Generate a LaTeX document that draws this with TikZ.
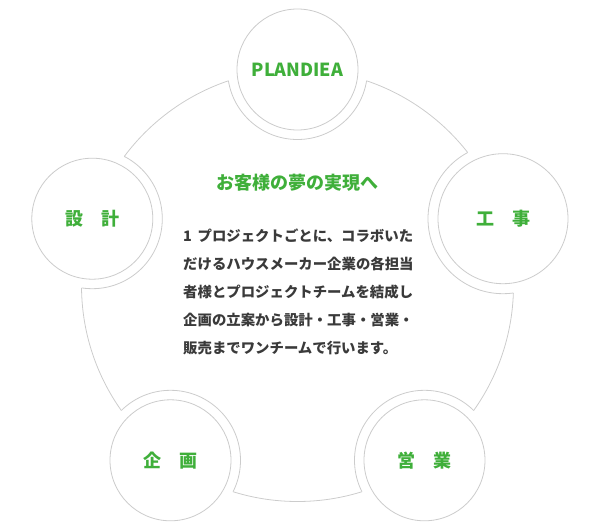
\documentclass[tikz,border=0pt]{standalone}
\usepackage{fontspec}
\setmainfont{Noto Sans CJK JP}
\definecolor{grn}{HTML}{3FAF3A}
\definecolor{txt}{HTML}{3A3A3A}
\definecolor{ring}{HTML}{CCCCCC}
\begin{document}
\begin{tikzpicture}[x=1pt,y=-1pt,
  stage/.style={circle,draw=ring,line width=0.8pt,minimum size=121pt,inner sep=0pt,
    text=grn,font=\fontsize{18}{20}\selectfont\bfseries},
  body/.style={anchor=base west,inner sep=0pt,text=txt,font=\fontsize{14.4}{16}\selectfont\bfseries},
  outline/.style={draw=ring,line width=0.8pt}]
\useasboundingbox (0,0) rectangle (600,530);
\coordinate (O) at (297.5,285.5);
\coordinate (cA) at (297.5,69.5);
\coordinate (cB) at (503,218.7);
\coordinate (cC) at (424.5,460.3);
\coordinate (cD) at (170.5,460.3);
\coordinate (cE) at (92.3,218.7);
% big circle, then bites removed
\draw[outline] (O) circle (216);
\fill[white] (cA) circle (70) (cB) circle (75) (cC) circle (70) (cD) circle (70) (cE) circle (70);
% bite arcs inside big circle
\begin{scope}
  \clip (O) circle (216);
  \draw[outline] (cA) circle (70) (cB) circle (75) (cC) circle (70) (cD) circle (70) (cE) circle (70);
\end{scope}
\node[stage] (plan) at (cA) {PLANDIEA};
\node[stage,minimum size=130pt] (koji) at (cB) {工　事};
\node[stage] (eigyo) at (cC) {営　業};
\node[stage] (kikaku) at (cD) {企　画};
\node[stage] (sekkei) at (cE) {設　計};
\node[text=grn,font=\fontsize{18}{20}\selectfont\bfseries,inner sep=0pt] (title) at (297,183) {お客様の夢の実現へ};
\node[body] (l1) at (183,241.5) {\makebox[14.4pt][l]{1}プロジェクトごとに、コラボいた};
\node[body] (l2) at (183,269.5) {だけるハウスメーカー企業の各担当};
\node[body] (l3) at (183,297.5) {者様とプロジェクトチームを結成し};
\node[body] (l4) at (183,325.5) {企画の立案から設計・工事・営業・};
\node[body] (l5) at (183,353.5) {販売までワンチームで行います。};
\end{tikzpicture}
\end{document}
